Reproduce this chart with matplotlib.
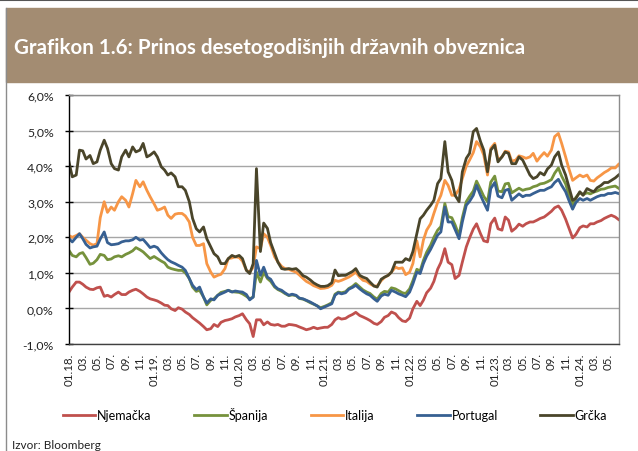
import numpy as np
import pandas as pd
import matplotlib
matplotlib.use('Agg')
import matplotlib.pyplot as plt
from matplotlib.patches import Rectangle
from matplotlib.lines import Line2D

plt.rcParams['font.family'] = ['Lato', 'DejaVu Sans']

# semi-monthly observations, Jan 2018 - Jun 2024
dates = pd.date_range('2018-01-01', periods=156, freq='SMS')

deu = [0.46, 0.60, 0.74, 0.74, 0.68, 0.60, 0.54, 0.53, 0.58, 0.60, 0.34, 0.37,
       0.32, 0.39, 0.46, 0.39, 0.39, 0.46, 0.51, 0.54, 0.48, 0.41, 0.32, 0.27,
       0.24, 0.21, 0.15, 0.09, 0.08, -0.01, -0.06, 0.02, -0.02, -0.10, -0.17, -0.26,
       -0.34, -0.41, -0.51, -0.60, -0.57, -0.45, -0.51, -0.39, -0.34, -0.32, -0.29, -0.24,
       -0.20, -0.15, -0.32, -0.43, -0.79, -0.32, -0.32, -0.46, -0.38, -0.45, -0.47, -0.45,
       -0.50, -0.50, -0.45, -0.46, -0.48, -0.52, -0.56, -0.60, -0.57, -0.53, -0.57, -0.55,
       -0.53, -0.53, -0.45, -0.32, -0.26, -0.30, -0.28, -0.22, -0.17, -0.11, -0.20, -0.24,
       -0.29, -0.34, -0.42, -0.45, -0.37, -0.25, -0.20, -0.10, -0.15, -0.26, -0.35, -0.37,
       -0.27, -0.01, 0.20, 0.08, 0.23, 0.44, 0.57, 0.76, 1.10, 1.29, 1.68, 1.30,
       1.23, 0.84, 0.93, 1.30, 1.73, 1.98, 2.23, 2.38, 2.10, 1.90, 1.87, 2.38,
       2.54, 2.24, 2.20, 2.57, 2.48, 2.17, 2.26, 2.37, 2.31, 2.38, 2.43, 2.43,
       2.48, 2.53, 2.57, 2.64, 2.73, 2.83, 2.88, 2.76, 2.51, 2.26, 1.98, 2.08,
       2.27, 2.32, 2.29, 2.38, 2.38, 2.43, 2.47, 2.53, 2.58, 2.62, 2.57, 2.50]

esp = [1.63, 1.49, 1.45, 1.54, 1.57, 1.43, 1.24, 1.27, 1.37, 1.52, 1.49, 1.37,
       1.39, 1.45, 1.48, 1.45, 1.52, 1.56, 1.62, 1.71, 1.65, 1.59, 1.49, 1.40,
       1.46, 1.40, 1.33, 1.28, 1.16, 1.12, 1.09, 1.07, 1.07, 1.00, 0.84, 0.60,
       0.48, 0.51, 0.32, 0.10, 0.23, 0.27, 0.37, 0.45, 0.48, 0.51, 0.47, 0.46,
       0.45, 0.41, 0.34, 0.27, 0.32, 1.02, 0.74, 1.02, 0.84, 0.76, 0.60, 0.53,
       0.48, 0.42, 0.36, 0.38, 0.36, 0.28, 0.26, 0.22, 0.16, 0.12, 0.07, 0.02,
       0.06, 0.10, 0.16, 0.40, 0.46, 0.44, 0.47, 0.56, 0.62, 0.70, 0.60, 0.52,
       0.46, 0.42, 0.32, 0.26, 0.42, 0.48, 0.46, 0.58, 0.55, 0.50, 0.44, 0.42,
       0.55, 0.78, 1.10, 1.05, 1.35, 1.58, 1.78, 2.00, 2.20, 2.30, 2.95, 2.58,
       2.55, 2.35, 2.05, 2.55, 3.00, 3.15, 3.30, 3.58, 3.35, 3.15, 3.00, 3.55,
       3.72, 3.30, 3.28, 3.50, 3.52, 3.25, 3.32, 3.38, 3.32, 3.35, 3.37, 3.42,
       3.45, 3.50, 3.52, 3.56, 3.62, 3.80, 3.95, 3.72, 3.50, 3.20, 2.92, 3.12,
       3.26, 3.20, 3.25, 3.22, 3.27, 3.30, 3.35, 3.36, 3.40, 3.42, 3.44, 3.38]

ita = [2.05, 2.00, 2.05, 2.10, 2.00, 1.92, 1.82, 1.78, 1.82, 2.55, 3.00, 2.70,
       2.85, 2.76, 3.00, 3.14, 3.04, 2.85, 3.23, 3.60, 3.42, 3.56, 3.32, 3.14,
       2.94, 2.76, 2.80, 2.85, 2.62, 2.53, 2.65, 2.67, 2.67, 2.60, 2.43, 2.00,
       1.77, 1.77, 1.82, 1.26, 1.02, 0.88, 0.93, 0.96, 1.12, 1.40, 1.42, 1.45,
       1.43, 1.33, 1.07, 1.02, 1.16, 1.73, 1.68, 2.10, 2.00, 1.77, 1.45, 1.31,
       1.18, 1.12, 1.10, 1.06, 1.02, 0.94, 0.84, 0.76, 0.70, 0.64, 0.60, 0.56,
       0.57, 0.59, 0.65, 0.79, 0.76, 0.79, 0.84, 0.88, 0.95, 1.02, 0.88, 0.79,
       0.76, 0.69, 0.63, 0.63, 0.78, 0.87, 0.93, 1.02, 1.16, 1.12, 1.14, 0.95,
       1.02, 1.26, 1.90, 1.45, 1.92, 2.20, 2.38, 2.67, 2.98, 3.18, 3.60, 3.46,
       3.18, 3.18, 3.35, 3.65, 4.00, 4.17, 4.38, 4.69, 4.54, 4.31, 3.75, 4.50,
       4.64, 4.17, 4.26, 4.42, 4.40, 4.14, 4.17, 4.29, 4.26, 4.22, 4.26, 4.36,
       4.14, 4.26, 4.38, 4.28, 4.45, 4.83, 4.92, 4.64, 4.26, 3.93, 3.60, 3.67,
       3.75, 3.70, 3.75, 3.60, 3.58, 3.67, 3.75, 3.82, 3.88, 3.95, 3.95, 4.05]

prt = [1.96, 1.87, 2.00, 2.10, 1.96, 1.80, 1.70, 1.73, 1.75, 1.95, 2.15, 1.85,
       1.79, 1.80, 1.82, 1.87, 1.90, 1.90, 1.93, 2.00, 1.92, 1.94, 1.82, 1.71,
       1.75, 1.71, 1.56, 1.46, 1.37, 1.31, 1.26, 1.21, 1.16, 1.07, 0.84, 0.65,
       0.53, 0.60, 0.32, 0.15, 0.27, 0.24, 0.37, 0.41, 0.46, 0.51, 0.46, 0.49,
       0.47, 0.46, 0.39, 0.24, 0.32, 1.35, 0.93, 1.16, 0.88, 0.82, 0.63, 0.55,
       0.51, 0.44, 0.37, 0.40, 0.37, 0.29, 0.27, 0.23, 0.18, 0.13, 0.07, -0.01,
       0.04, 0.08, 0.13, 0.37, 0.44, 0.41, 0.44, 0.54, 0.59, 0.65, 0.55, 0.48,
       0.41, 0.37, 0.27, 0.20, 0.35, 0.40, 0.37, 0.51, 0.46, 0.41, 0.37, 0.33,
       0.46, 0.69, 1.02, 0.98, 1.26, 1.47, 1.66, 1.85, 2.06, 2.15, 2.85, 2.43,
       2.43, 2.22, 1.96, 2.43, 2.90, 3.01, 3.18, 3.46, 3.18, 2.98, 2.76, 3.37,
       3.54, 3.16, 3.11, 3.32, 3.35, 3.04, 3.14, 3.22, 3.14, 3.18, 3.18, 3.23,
       3.28, 3.32, 3.32, 3.37, 3.42, 3.54, 3.63, 3.46, 3.28, 3.04, 2.79, 2.98,
       3.09, 3.04, 3.09, 3.04, 3.09, 3.14, 3.18, 3.18, 3.23, 3.23, 3.26, 3.23]

grc = [4.12, 3.70, 3.75, 4.45, 4.43, 4.20, 4.30, 4.07, 4.12, 4.45, 4.73, 4.50,
       4.07, 3.93, 3.89, 4.26, 4.45, 4.26, 4.54, 4.40, 4.45, 4.64, 4.26, 4.31,
       4.40, 4.26, 3.98, 3.89, 3.75, 3.81, 3.70, 3.42, 3.42, 3.32, 3.00, 2.53,
       2.24, 2.15, 2.29, 1.96, 1.73, 1.54, 1.45, 1.26, 1.26, 1.40, 1.49, 1.45,
       1.49, 1.40, 1.07, 0.98, 1.26, 3.93, 1.60, 2.40, 2.25, 1.85, 1.55, 1.30,
       1.12, 1.10, 1.12, 1.10, 1.12, 1.04, 0.92, 0.88, 0.80, 0.72, 0.66, 0.62,
       0.62, 0.64, 0.72, 1.08, 0.92, 0.93, 0.93, 0.98, 1.04, 1.12, 0.93, 0.88,
       0.84, 0.74, 0.63, 0.60, 0.82, 0.88, 0.93, 1.02, 1.30, 1.30, 1.30, 1.40,
       1.35, 1.60, 2.10, 2.52, 2.62, 2.76, 2.90, 3.04, 3.51, 3.65, 4.69, 3.84,
       3.60, 3.18, 3.00, 3.84, 4.22, 4.36, 4.97, 5.06, 4.69, 4.45, 3.84, 4.45,
       4.59, 4.12, 4.26, 4.40, 4.36, 4.07, 4.07, 4.26, 4.17, 3.98, 3.75, 3.65,
       3.70, 3.82, 3.75, 3.92, 4.03, 4.26, 4.40, 4.03, 3.75, 3.42, 3.04, 3.09,
       3.28, 3.18, 3.37, 3.32, 3.28, 3.39, 3.46, 3.54, 3.54, 3.60, 3.67, 3.75]

labels = ['Njemačka', 'Španija', 'Italija', 'Portugal', 'Grčka']
colors = ['#C0504D', '#76923C', '#F79646', '#376092', '#4A452A']

fig = plt.figure(figsize=(6.38, 4.52), dpi=100)

# frame and title bar
fig.patches.append(Rectangle((6 / 638, 1 - 83 / 452), 1, 74 / 452,
                             transform=fig.transFigure, color='#A38C72', zorder=0))
fig.add_artist(Line2D([0, 1], [1 - 1 / 452, 1 - 1 / 452], transform=fig.transFigure,
                      color='#555555', lw=1.5))
fig.add_artist(Line2D([6 / 638, 6 / 638], [0, 1 - 9 / 452], transform=fig.transFigure,
                      color='#8C8C8C', lw=1))
fig.text(14 / 638, 1 - 48 / 452, 'Grafikon 1.6: Prinos desetogodišnjih državnih obveznica',
         color='white', fontsize=14.8, fontweight='bold', va='center', ha='left')

ax = fig.add_axes([69 / 638, 1 - 345 / 452, 550 / 638, 249 / 452])
for s, c, lab in zip([deu, esp, ita, prt, grc], colors, labels):
    ax.plot(dates, s, color=c, lw=2.0, label=lab)

ax.set_ylim(-1, 6)
ax.set_yticks(range(-1, 7))
ax.set_yticklabels([f'{v},0%' for v in range(-1, 7)], fontsize=8.8, color='#222222')
ax.grid(axis='y', color='#A6A6A6', lw=1)
ax.set_axisbelow(True)
ax.tick_params(axis='y', direction='inout', length=6, width=1, pad=8)

ax.set_xlim(pd.Timestamp('2018-01-01'), pd.Timestamp('2024-06-17'))
ticks = pd.date_range('2018-01-01', '2024-05-01', freq='2MS')
ax.set_xticks(ticks)
ax.set_xticklabels([f'01.{t.strftime("%y")}.' if t.month == 1 else f'{t.month:02d}.'
                    for t in ticks], rotation=90, fontsize=8.3, color='#222222')
ax.tick_params(axis='x', length=0, pad=6)

ax.spines['left'].set_color('black')
ax.spines['bottom'].set_color('#404040')
ax.spines['top'].set_color('#8C8C8C')
ax.spines['right'].set_color('#8C8C8C')
for sp in ax.spines.values():
    sp.set_linewidth(1)

fig.legend(loc='center', bbox_to_anchor=(335 / 638, 1 - 415 / 452), ncol=5, frameon=False,
           fontsize=9, handlelength=2.6, handletextpad=0.15, columnspacing=3.4)

fig.text(12 / 638, 1 - 446 / 452, 'Izvor: Bloomberg', fontsize=8.5, color='#222222',
         va='center', ha='left')

fig.savefig('out.png', dpi=100)
